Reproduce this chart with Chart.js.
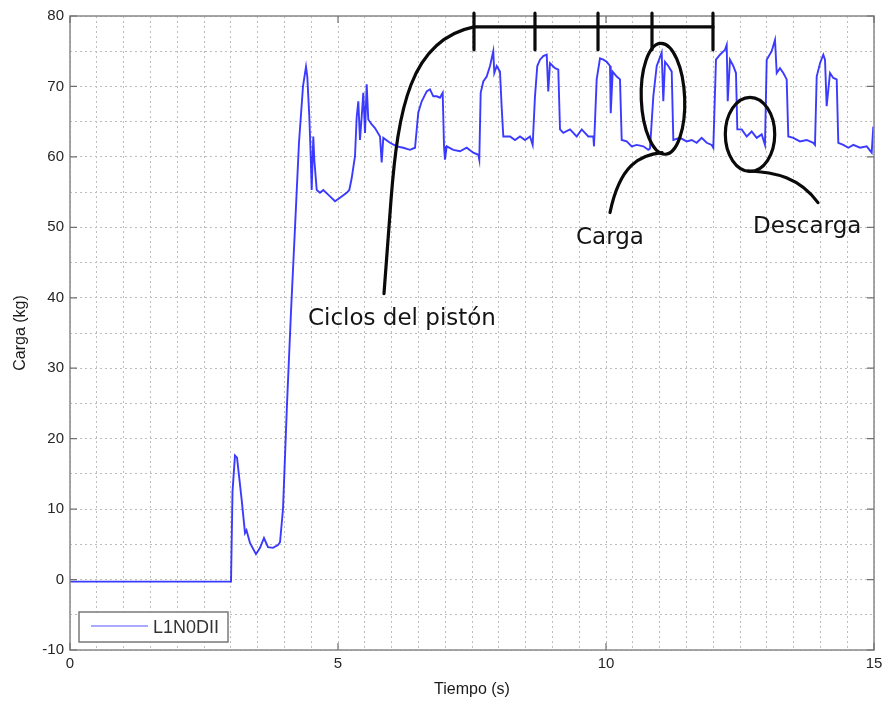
<!DOCTYPE html>
<html lang="es">
<head>
<meta charset="UTF-8">
<title>Carga vs Tiempo</title>
<script src="https://cdn.jsdelivr.net/npm/chart.js"></script>
<style>
    html, body { margin: 0; padding: 0; background: #fff; }
    #wrap { width: 888px; height: 705px; position: relative; }
</style>
</head>
<body>
<div id="wrap"><canvas id="cargaChart" width="888" height="705"></canvas></div>
<script>
// serie L1N0DII: tiempo (s) y carga (kg)
const tiempo = [
    0, 3.004, 3.032, 3.078, 3.116, 3.203, 3.265, 3.293, 3.358, 3.470, 3.545, 3.619, 3.694, 3.787, 3.881, 3.918,
    3.974, 4.049, 4.123, 4.198, 4.272, 4.347, 4.403, 4.427, 4.465, 4.491, 4.509, 4.539, 4.558, 4.603, 4.664, 4.726,
    4.851, 4.944, 5.037, 5.162, 5.211, 5.256, 5.317, 5.349, 5.379, 5.410, 5.442, 5.472, 5.504, 5.535, 5.565, 5.629,
    5.690, 5.784, 5.815, 5.845, 5.970, 6.095, 6.218, 6.343, 6.437, 6.498, 6.562, 6.655, 6.716, 6.778, 6.841, 6.903,
    6.953, 6.978, 6.996, 7.028, 7.151, 7.276, 7.401, 7.524, 7.618, 7.636, 7.662, 7.711, 7.774, 7.836, 7.897, 7.916,
    7.961, 8.022, 8.054, 8.084, 8.209, 8.302, 8.396, 8.489, 8.582, 8.632, 8.675, 8.718, 8.769, 8.830, 8.894, 8.923,
    8.955, 9.049, 9.110, 9.142, 9.203, 9.328, 9.453, 9.547, 9.670, 9.763, 9.776, 9.826, 9.888, 9.950, 10.013, 10.075,
    10.088, 10.125, 10.200, 10.261, 10.293, 10.386, 10.479, 10.573, 10.696, 10.789, 10.821, 10.883, 10.946, 11.039, 11.069, 11.101,
    11.162, 11.226, 11.256, 11.381, 11.506, 11.599, 11.692, 11.785, 11.879, 11.972, 12.002, 12.052, 12.127, 12.220, 12.252, 12.271,
    12.313, 12.375, 12.425, 12.450, 12.532, 12.625, 12.718, 12.811, 12.905, 12.966, 12.998, 13.091, 13.153, 13.185, 13.246, 13.308,
    13.371, 13.401, 13.494, 13.619, 13.744, 13.867, 13.899, 13.931, 13.993, 14.054, 14.086, 14.117, 14.179, 14.241, 14.304, 14.334,
    14.427, 14.521, 14.614, 14.739, 14.864, 14.957, 14.987
];
const carga = [
    -0.3, -0.3, 12.5, 17.6, 17.3, 11.3, 6.6, 7.0, 5.2, 3.6, 4.5, 5.9, 4.6, 4.5, 4.9, 5.3,
    10, 25, 38, 50, 62, 70, 72.8, 71.4, 65.7, 60.1, 55.3, 62.9, 59.6, 55.3, 54.9, 55.3,
    54.4, 53.7, 54.2, 54.9, 55.3, 57.0, 60.1, 65.7, 67.9, 62.4, 65.7, 69.1, 63.4, 70.3, 65.3, 64.6,
    64.1, 62.9, 59.2, 62.7, 62.0, 61.5, 61.3, 61.0, 61.3, 66.3, 67.9, 69.3, 69.6, 68.6, 68.6, 68.4,
    69.1, 61.5, 59.6, 61.5, 61.0, 60.8, 61.3, 60.6, 60.3, 59.6, 69.1, 70.7, 71.4, 72.9, 75.0, 71.9,
    72.9, 72.1, 67.0, 62.9, 62.9, 62.4, 62.9, 62.4, 62.9, 61.7, 68.6, 72.9, 73.8, 74.3, 74.5, 69.3,
    73.3, 72.6, 72.4, 63.9, 63.4, 63.9, 62.9, 63.9, 62.9, 62.9, 61.5, 71.0, 74.0, 73.8, 73.5, 72.9,
    66.2, 72.1, 71.4, 71.0, 62.4, 62.2, 61.5, 61.7, 61.5, 61.0, 61.2, 68.6, 72.9, 74.8, 67.9, 73.5,
    72.9, 72.1, 62.4, 62.7, 62.2, 62.4, 62.0, 62.7, 62.0, 61.7, 61.3, 73.8, 74.5, 75.2, 75.9, 67.9,
    73.8, 72.9, 71.9, 63.9, 63.9, 62.9, 63.6, 62.7, 63.2, 61.7, 73.8, 75.0, 76.6, 71.9, 72.6, 71.9,
    71.0, 62.9, 62.7, 62.2, 62.4, 62.0, 61.7, 71.4, 73.3, 74.5, 73.8, 67.2, 71.9, 71.2, 71.0, 62.0,
    61.7, 61.3, 61.7, 61.3, 61.5, 60.6, 64.3
];

const xTicksEtiqueta = [0, 5, 10, 15];
const yTicksEtiqueta = [-10, 0, 10, 20, 30, 40, 50, 60, 70, 80];
const serieNombre = 'L1N0DII';

// marcas de ciclo sobre la grafica (s)
const ciclosMarcas = [7.537, 8.675, 9.851, 10.858, 11.996];

const puntos = tiempo.map((t, i) => ({x: t, y: carga[i]}));

// dibuja caja de ejes, ticks hacia dentro, leyenda y anotaciones
const extrasPlugin = {
    id: 'extras',
    afterDraw(chart) {
        const ctx = chart.ctx;
        const a = chart.chartArea;
        const xs = chart.scales.x, ys = chart.scales.y;
        const P = (t, v) => [xs.getPixelForValue(t), ys.getPixelForValue(v)];

        ctx.save();
        // caja
        ctx.strokeStyle = '#8f8f8f';
        ctx.lineWidth = 1.6;
        ctx.strokeRect(a.left, a.top, a.right - a.left, a.bottom - a.top);
        // ticks
        ctx.lineWidth = 1.2;
        ctx.strokeStyle = '#707070';
        ctx.beginPath();
        xTicksEtiqueta.forEach(t => {
            const px = xs.getPixelForValue(t);
            ctx.moveTo(px, a.bottom); ctx.lineTo(px, a.bottom - 7);
            ctx.moveTo(px, a.top); ctx.lineTo(px, a.top + 7);
        });
        yTicksEtiqueta.forEach(v => {
            const py = ys.getPixelForValue(v);
            ctx.moveTo(a.left, py); ctx.lineTo(a.left + 7, py);
            ctx.moveTo(a.right, py); ctx.lineTo(a.right - 7, py);
        });
        ctx.stroke();

        // leyenda
        const lx = a.left + 9, ly = a.bottom - 38;
        ctx.fillStyle = '#fff';
        ctx.fillRect(lx, ly, 149, 30);
        ctx.strokeStyle = '#7a7a7a';
        ctx.lineWidth = 1.5;
        ctx.strokeRect(lx, ly, 149, 30);
        ctx.strokeStyle = '#8c8cff';
        ctx.lineWidth = 1.5;
        ctx.beginPath();
        ctx.moveTo(lx + 12, ly + 14); ctx.lineTo(lx + 69, ly + 14);
        ctx.stroke();
        ctx.fillStyle = '#333';
        ctx.font = '18px "Liberation Sans", Arial, sans-serif';
        ctx.textBaseline = 'alphabetic';
        ctx.fillText(serieNombre, lx + 74, ly + 21);

        // anotaciones
        ctx.strokeStyle = '#0a0a0a';
        ctx.lineWidth = 3.2;
        ctx.lineCap = 'round';
        ctx.lineJoin = 'round';

        // curva ciclos del piston
        let p0 = P(5.858, 40.6), p1 = P(5.989, 53.9), c1 = P(6.119, 66.7), c2 = P(6.343, 76.6), p2 = P(7.537, 78.45);
        ctx.beginPath();
        ctx.moveTo(...p0);
        ctx.lineTo(...p1);
        ctx.bezierCurveTo(...c1, ...c2, ...p2);
        ctx.lineTo(...P(11.996, 78.45));
        ctx.stroke();
        ctx.beginPath();
        ciclosMarcas.forEach(t => {
            ctx.moveTo(...P(t, 80.4));
            ctx.lineTo(...P(t, 75.2));
        });
        ctx.stroke();

        // elipse carga
        const elipse = (t, v, rt, rv, rot) => {
            const [cx, cy] = P(t, v);
            const rx = xs.getPixelForValue(t + rt) - cx;
            const ry = cy - ys.getPixelForValue(v + rv);
            ctx.beginPath();
            ctx.ellipse(cx, cy, rx, ry, rot, 0, Math.PI * 2);
            ctx.stroke();
        };
        elipse(11.063, 68.25, 0.405, 7.88, -0.04);
        ctx.beginPath();
        ctx.moveTo(...P(11.045, 60.6));
        ctx.bezierCurveTo(...P(10.634, 60.3), ...P(10.261, 58.9), ...P(10.075, 52.1));
        ctx.stroke();

        // elipse descarga
        elipse(12.687, 63.2, 0.461, 5.26, 0);
        ctx.beginPath();
        ctx.moveTo(...P(12.649, 58.0));
        ctx.bezierCurveTo(...P(13.153, 57.9), ...P(13.619, 57.0), ...P(13.955, 53.5));
        ctx.stroke();

        // textos
        ctx.fillStyle = '#141414';
        ctx.font = '23px "DejaVu Sans", Verdana, sans-serif';
        ctx.fillText('Ciclos del pistón', ...P(4.440, 36.16));
        ctx.fillText('Carga', ...P(9.440, 47.67));
        ctx.fillText('Descarga', ...P(12.743, 49.23));
        ctx.restore();
    }
};

const tickFont = {family: '"Liberation Sans", Arial, sans-serif', size: 15};
const titleFont = {family: '"Liberation Sans", Arial, sans-serif', size: 16};

new Chart(document.getElementById('cargaChart').getContext('2d'), {
    type: 'line',
    data: {
        datasets: [{
            label: serieNombre,
            data: puntos,
            borderColor: 'rgba(10,10,255,0.8)',
            borderWidth: 1.9,
            pointRadius: 0,
            tension: 0,
            fill: false
        }]
    },
    options: {
        responsive: false,
        animation: false,
        layout: {padding: {top: 16, right: 14, left: 0, bottom: 0}},
        plugins: {legend: {display: false}, tooltip: {enabled: false}},
        scales: {
            x: {
                type: 'linear',
                min: 0,
                max: 15,
                afterFit: s => { s.height = 55; },
                ticks: {
                    stepSize: 0.5,
                    autoSkip: false,
                    maxRotation: 0,
                    padding: 5,
                    font: tickFont,
                    color: '#262626',
                    callback: v => (Math.abs(v % 5) < 1e-6 ? v : '')
                },
                grid: {color: '#bdbdbd', lineWidth: 1, drawTicks: false},
                border: {display: false, dash: [2, 3]},
                title: {display: true, text: 'Tiempo (s)', font: titleFont, color: '#1a1a1a', padding: {top: 0, bottom: 6}}
            },
            y: {
                min: -10,
                max: 80,
                afterFit: s => { s.width = 70; },
                ticks: {
                    stepSize: 5,
                    autoSkip: false,
                    padding: 6,
                    font: tickFont,
                    color: '#262626',
                    callback: v => (Math.abs(v % 10) < 1e-6 ? v : '')
                },
                grid: {color: '#bdbdbd', lineWidth: 1, drawTicks: false},
                border: {display: false, dash: [2, 3]},
                title: {display: true, text: 'Carga (kg)', font: titleFont, color: '#1a1a1a', padding: {top: 11, bottom: 0}}
            }
        }
    },
    plugins: [extrasPlugin]
});
</script>
</body>
</html>
